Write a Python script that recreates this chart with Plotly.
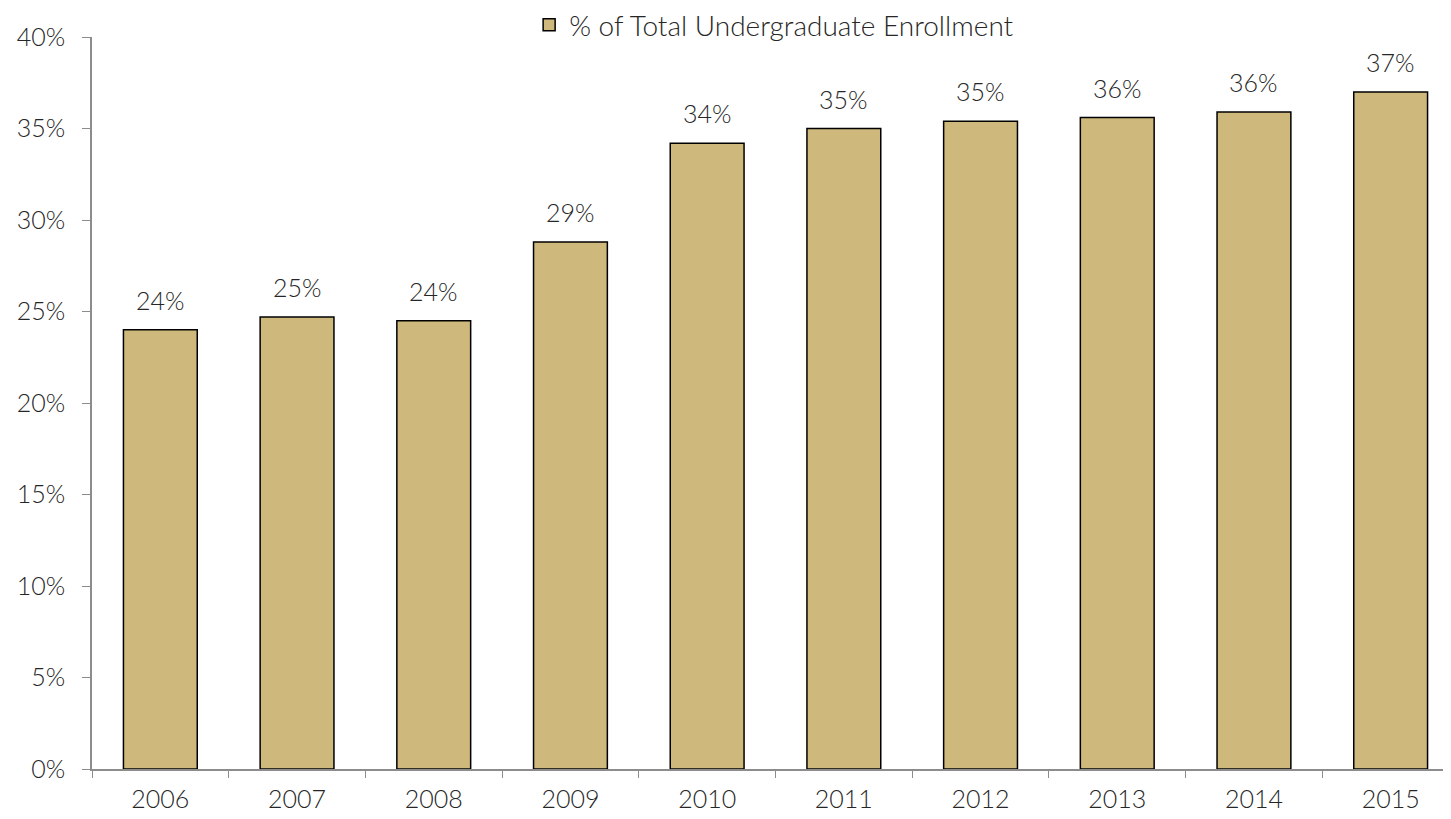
import plotly.graph_objects as go

years = ["2006", "2007", "2008", "2009", "2010", "2011", "2012", "2013", "2014", "2015"]
share = [24.0, 24.7, 24.5, 28.8, 34.2, 35.0, 35.4, 35.6, 35.9, 37.0]
y_ticks = [0, 5, 10, 15, 20, 25, 30, 35, 40]

font_family = "Lato, Open Sans, sans-serif"
text_color = "#262626"
axis_color = "#8c8c8c"

fig = go.Figure()
fig.add_trace(go.Bar(
    x=years,
    y=share,
    name="% of Total Undergraduate Enrollment",
    marker=dict(color="#CFB87C", line=dict(color="black", width=1.5)),
    hoverinfo="skip",
))

# value labels sit a little above each bar (x given as category index)
for i, v in enumerate(share):
    fig.add_annotation(
        x=i, y=v, text=f"{v:.0f}%",
        showarrow=False, yanchor="bottom", yshift=13,
        font=dict(size=25, color=text_color, family=font_family, weight=300),
    )

# the page body adds an 8px offset; the plot runs a little past the right edge
fig.update_layout(
    width=1451,
    height=811,
    margin=dict(l=84, r=0, t=29, b=50, autoexpand=False),
    plot_bgcolor="white",
    paper_bgcolor="white",
    font=dict(family=font_family, size=25, color=text_color, weight=300),
    bargap=0.46,
    showlegend=True,
    legend=dict(
        orientation="h",
        x=0.528, xanchor="center", xref="container",
        y=1 - 17 / 811, yanchor="middle", yref="container",
        font=dict(size=28, weight=300),
        itemwidth=30,
    ),
    xaxis=dict(
        type="category",
        categoryorder="array",
        categoryarray=years,
        range=[-0.5, len(years) - 0.5],
        automargin=False,
        showline=True,
        linecolor=axis_color,
        linewidth=1.5,
        ticks="outside",
        tickson="boundaries",
        ticklen=7,
        tickcolor=axis_color,
        ticklabelstandoff=7,
        showgrid=False,
    ),
    yaxis=dict(
        range=[0, 40],
        automargin=False,
        tickvals=y_ticks,
        ticktext=[f"{t}%" for t in y_ticks],
        showline=True,
        linecolor=axis_color,
        linewidth=1.5,
        ticks="outside",
        ticklen=8,
        tickcolor=axis_color,
        ticklabelstandoff=12,
        showgrid=False,
        zeroline=False,
    ),
)

fig.write_html("out.html")
